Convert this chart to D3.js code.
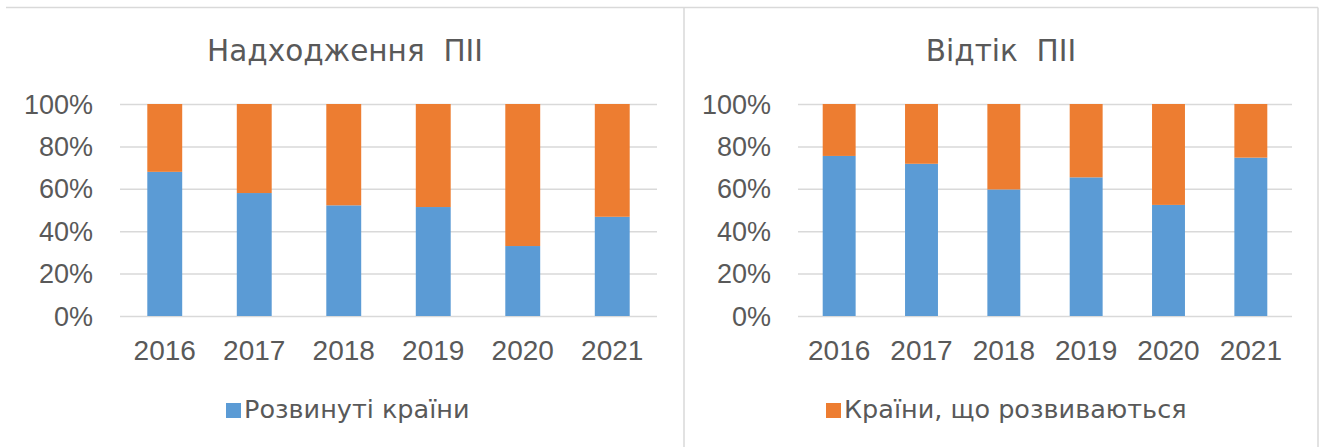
<!DOCTYPE html>
<html>
<head>
<meta charset="utf-8">
<script src="https://cdn.jsdelivr.net/npm/d3@7"></script>
<style>
    body { margin: 0; background: #fff; }
    svg text { fill: #595959; white-space: pre; }
</style>
</head>
<body>
<svg id="svg" width="1322" height="447"></svg>
<script>
var years = ["2016", "2017", "2018", "2019", "2020", "2021"];
var yTicks = [0, 0.2, 0.4, 0.6, 0.8, 1];

// share of developed countries, the rest goes to developing ones
var inflowDeveloped = [0.68, 0.58, 0.522, 0.514, 0.33, 0.468];
var outflowDeveloped = [0.755, 0.718, 0.597, 0.654, 0.524, 0.747];

var titles = ["Надходження  ПІІ", "Відтік  ПІІ"];
var seriesNames = ["Розвинуті країни", "Країни, що розвиваються"];
var colors = ["#5B9BD5", "#ED7D31"];

// no serif face here, so wide sans for the long texts
var FONT_WIDE = '"DejaVu Sans", sans-serif';
var FONT_TICK = '"Liberation Sans", Arial, sans-serif';

var svg = d3.select("#svg");

// frame lines
svg.append("line").attr("x1", 6).attr("x2", 1318).attr("y1", 7.5).attr("y2", 7.5)
    .attr("stroke", "#d9d9d9").attr("stroke-width", 1.5);
svg.append("line").attr("x1", 684).attr("x2", 684).attr("y1", 7.5).attr("y2", 447)
    .attr("stroke", "#d9d9d9").attr("stroke-width", 1.5);
svg.append("line").attr("x1", 1318).attr("x2", 1318).attr("y1", 7.5).attr("y2", 447)
    .attr("stroke", "#d9d9d9").attr("stroke-width", 1.5);

function drawChart(opt) {
    var g = svg.append("g");

    var x = d3.scaleBand().domain(years).range([opt.x0, opt.x1])
        .paddingInner(opt.pad).paddingOuter(opt.pad / 2);
    var y = d3.scaleLinear().domain([0, 1]).range([316, 104]);

    g.append("text")
        .attr("x", opt.cx).attr("y", 61)
        .attr("text-anchor", "middle")
        .style("font-family", FONT_WIDE)
        .style("font-size", "29.5px")
        .text(opt.title);

    var yAxis = d3.axisLeft(y).tickValues(yTicks).tickFormat(d3.format(".0%"))
        .tickSize(-(opt.x1 - opt.x0)).tickPadding(27);
    var ya = g.append("g").attr("transform", "translate(" + opt.x0 + ",0)").call(yAxis);
    ya.attr("font-family", null);
    ya.select(".domain").remove();
    ya.selectAll(".tick line").attr("stroke", "#d9d9d9").attr("stroke-width", 1.5);
    ya.selectAll(".tick text").attr("fill", "#595959").attr("dy", "0.34em")
        .style("font-size", "27px").style("font-family", FONT_TICK);

    var stacked = years.map(function(yr, i) {
        return { year: yr, dev: opt.values[i], rest: 1 - opt.values[i] };
    });

    g.selectAll(".dev").data(stacked).enter().append("rect")
        .attr("x", function(d) { return x(d.year); })
        .attr("width", x.bandwidth())
        .attr("y", function(d) { return y(d.dev); })
        .attr("height", function(d) { return y(0) - y(d.dev); })
        .attr("fill", colors[0]);

    g.selectAll(".rest").data(stacked).enter().append("rect")
        .attr("x", function(d) { return x(d.year); })
        .attr("width", x.bandwidth())
        .attr("y", function(d) { return y(1); })
        .attr("height", function(d) { return y(d.dev) - y(1); })
        .attr("fill", colors[1]);

    var xAxis = d3.axisBottom(x).tickSize(0).tickPadding(0);
    var xa = g.append("g").attr("transform", "translate(0,340)").call(xAxis);
    xa.attr("font-family", null);
    xa.select(".domain").remove();
    xa.selectAll(".tick text").attr("fill", "#595959").attr("dy", "0.71em")
        .style("font-size", "28px").style("font-family", FONT_TICK);

    // legend
    var lg = g.append("g");
    lg.append("rect").attr("x", opt.legX).attr("y", 403).attr("width", 15).attr("height", 15)
        .attr("fill", opt.legColor);
    lg.append("text").attr("x", opt.legX + 18).attr("y", 418)
        .style("font-family", FONT_WIDE)
        .style("font-size", "25.5px")
        .text(opt.legText);
}

drawChart({ x0: 120, x1: 657, pad: 0.61, cx: 345, title: titles[0], values: inflowDeveloped,
            legX: 226, legColor: colors[0], legText: seriesNames[0] });
drawChart({ x0: 798, x1: 1292, pad: 0.6, cx: 1001, title: titles[1], values: outflowDeveloped,
            legX: 826, legColor: colors[1], legText: seriesNames[1] });
</script>
</body>
</html>
